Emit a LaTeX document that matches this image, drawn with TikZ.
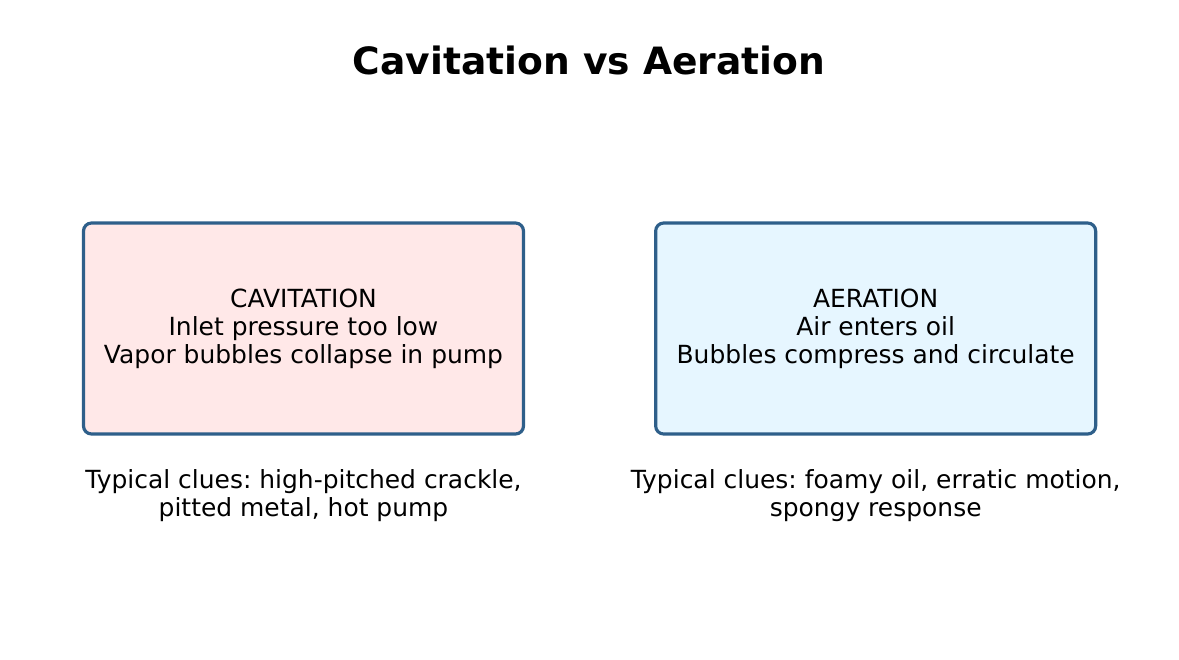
\documentclass[tikz,border=0pt]{standalone}
\usepackage{fontspec}
\setmainfont{DejaVu Sans}
\frenchspacing
\usetikzlibrary{positioning}
\definecolor{edgeblue}{HTML}{2E5F8A}
\definecolor{cavfill}{HTML}{FFE8E8}
\definecolor{aerfill}{HTML}{E6F6FF}
\tikzset{
    cell/.style = {rectangle, rounded corners=0.16cm, draw=edgeblue, line width=1.8pt, minimum width=8.8cm, minimum height=4.22cm, align=center, font=\fontsize{14.2}{15.9}\selectfont},
    clue/.style = {align=center, font=\fontsize{14.2}{15.9}\selectfont},
    heading/.style = {font=\bfseries\fontsize{21.4}{24}\selectfont}
}
\begin{document}
\begin{tikzpicture}
  \useasboundingbox (0,0) rectangle (23.58,-13.18);
  \node[heading] (title) at (11.78,-1.2) {Cavitation vs Aeration};

  \node[cell, fill=cavfill] (cav) at (6.07,-6.57) {CAVITATION\\Inlet pressure too low\\Vapor bubbles collapse in pump};
  \node[cell, fill=aerfill, right=2.58cm of cav] (aer) {AERATION\\Air enters oil\\Bubbles compress and circulate};

  \node[clue, below=1.2cm of cav.south, anchor=center] (cavclue) {Typical clues: high-pitched crackle,\\pitted metal, hot pump};
  \node[clue, below=1.2cm of aer.south, anchor=center] (aerclue) {Typical clues: foamy oil, erratic motion,\\spongy response};
\end{tikzpicture}
\end{document}
